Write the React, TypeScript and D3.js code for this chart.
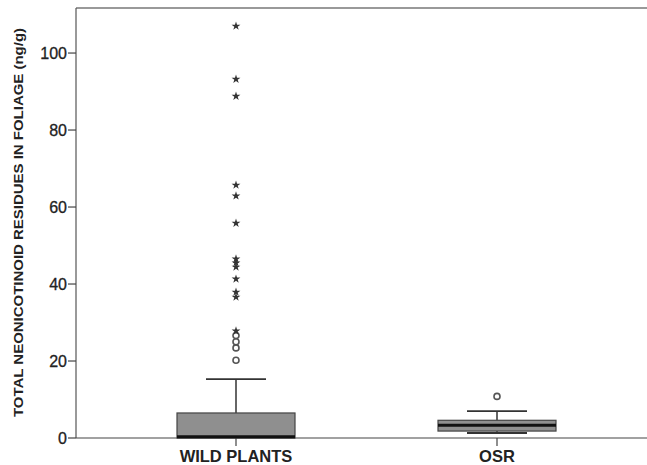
import React from "react";
import * as d3 from "d3";

const categories = ["WILD PLANTS", "OSR"];
const whiskerLow = [0, 1.3];
const q1 = [0, 1.8];
const median = [0.3, 3.3];
const q3 = [6.5, 4.6];
const whiskerHigh = [15.3, 7.0];
const outliersCircle = [
  [20.2, 23.4, 25.0, 26.6],
  [10.8],
];
const outliersStar = [
  [27.8, 36.6, 37.9, 41.3, 44.4, 45.5, 46.5, 55.8, 62.9, 65.7, 88.8, 93.2, 107.0],
  [],
];
const yTicks = [0, 20, 40, 60, 80, 100];

const W = 647;
const H = 465;
const left = 76;
const top = 8;
const bottom = 438;

export default function App() {
  const y = d3.scaleLinear().domain([0, 111.7]).range([bottom, top]);
  const x = d3.scalePoint<string>().domain(categories).range([236, 497]);
  const boxW = 118;
  const capW = 60;
  const star = d3.symbol().type(d3.symbolStar).size(24)() as string;
  const font = "'Liberation Sans', Arial, Helvetica, sans-serif";
  return (
    <svg width={W} height={H} style={{ position: "absolute", left: 0, top: 0, background: "#fff" }}>
      <rect x={0} y={0} width={W} height={H} fill="#fff" />
      {/* frame */}
      <line x1={left} x2={W} y1={top} y2={top} stroke="#777" strokeWidth={1.5} />
      <line x1={left} x2={left} y1={top} y2={bottom} stroke="#555" strokeWidth={1.2} />
      <line x1={left} x2={W} y1={bottom} y2={bottom} stroke="#444" strokeWidth={1.2} />
      {/* y ticks */}
      {yTicks.map((t) => (
        <g key={t}>
          <line x1={left - 8} x2={left} y1={y(t)} y2={y(t)} stroke="#444" strokeWidth={1.2} />
          <text x={left - 9} y={y(t)} dy="0.36em" textAnchor="end" fontFamily={font} fontSize={16} fill="#222" stroke="#222" strokeWidth={0.3}>
            {t}
          </text>
        </g>
      ))}
      {/* y title */}
      <text
        transform={`translate(23, ${(28 + 417) / 2}) rotate(-90)`}
        textAnchor="middle"
        fontFamily={font}
        fontSize={13}
        fontWeight="bold"
        fill="#222"
        textLength={389}
        lengthAdjust="spacingAndGlyphs"
      >
        TOTAL NEONICOTINOID RESIDUES IN FOLIAGE (ng/g)
      </text>
      {categories.map((c, i) => {
        const cx = x(c) as number;
        return (
          <g key={c}>
            {/* x tick */}
            <line x1={cx} x2={cx} y1={bottom} y2={bottom + 8} stroke="#444" strokeWidth={1.2} />
            <text x={cx} y={462} textAnchor="middle" fontFamily={font} fontSize={16.5} fontWeight="bold" fill="#222">
              {c}
            </text>
            {/* whiskers */}
            <line x1={cx} x2={cx} y1={y(q3[i])} y2={y(whiskerHigh[i])} stroke="#333" strokeWidth={1.5} />
            <line x1={cx - capW / 2} x2={cx + capW / 2} y1={y(whiskerHigh[i])} y2={y(whiskerHigh[i])} stroke="#333" strokeWidth={1.8} />
            {whiskerLow[i] < q1[i] && (
              <>
                <line x1={cx} x2={cx} y1={y(q1[i])} y2={y(whiskerLow[i])} stroke="#333" strokeWidth={1.5} />
                <line x1={cx - capW / 2} x2={cx + capW / 2} y1={y(whiskerLow[i])} y2={y(whiskerLow[i])} stroke="#333" strokeWidth={1.8} />
              </>
            )}
            {/* box */}
            <rect
              x={cx - boxW / 2}
              y={y(q3[i])}
              width={boxW}
              height={Math.max(0, y(q1[i]) - y(q3[i]))}
              fill="#8f8f8f"
              stroke="#444"
              strokeWidth={1.2}
            />
            <line x1={cx - boxW / 2} x2={cx + boxW / 2} y1={y(median[i])} y2={y(median[i])} stroke="#111" strokeWidth={3} />
            {/* outliers */}
            {outliersCircle[i].map((v, j) => (
              <circle key={"c" + j} cx={cx} cy={y(v)} r={3} fill="none" stroke="#555" strokeWidth={1.6} />
            ))}
            {outliersStar[i].map((v, j) => (
              <path key={"s" + j} d={star} transform={`translate(${cx},${y(v)})`} fill="#333" />
            ))}
          </g>
        );
      })}
    </svg>
  );
}
